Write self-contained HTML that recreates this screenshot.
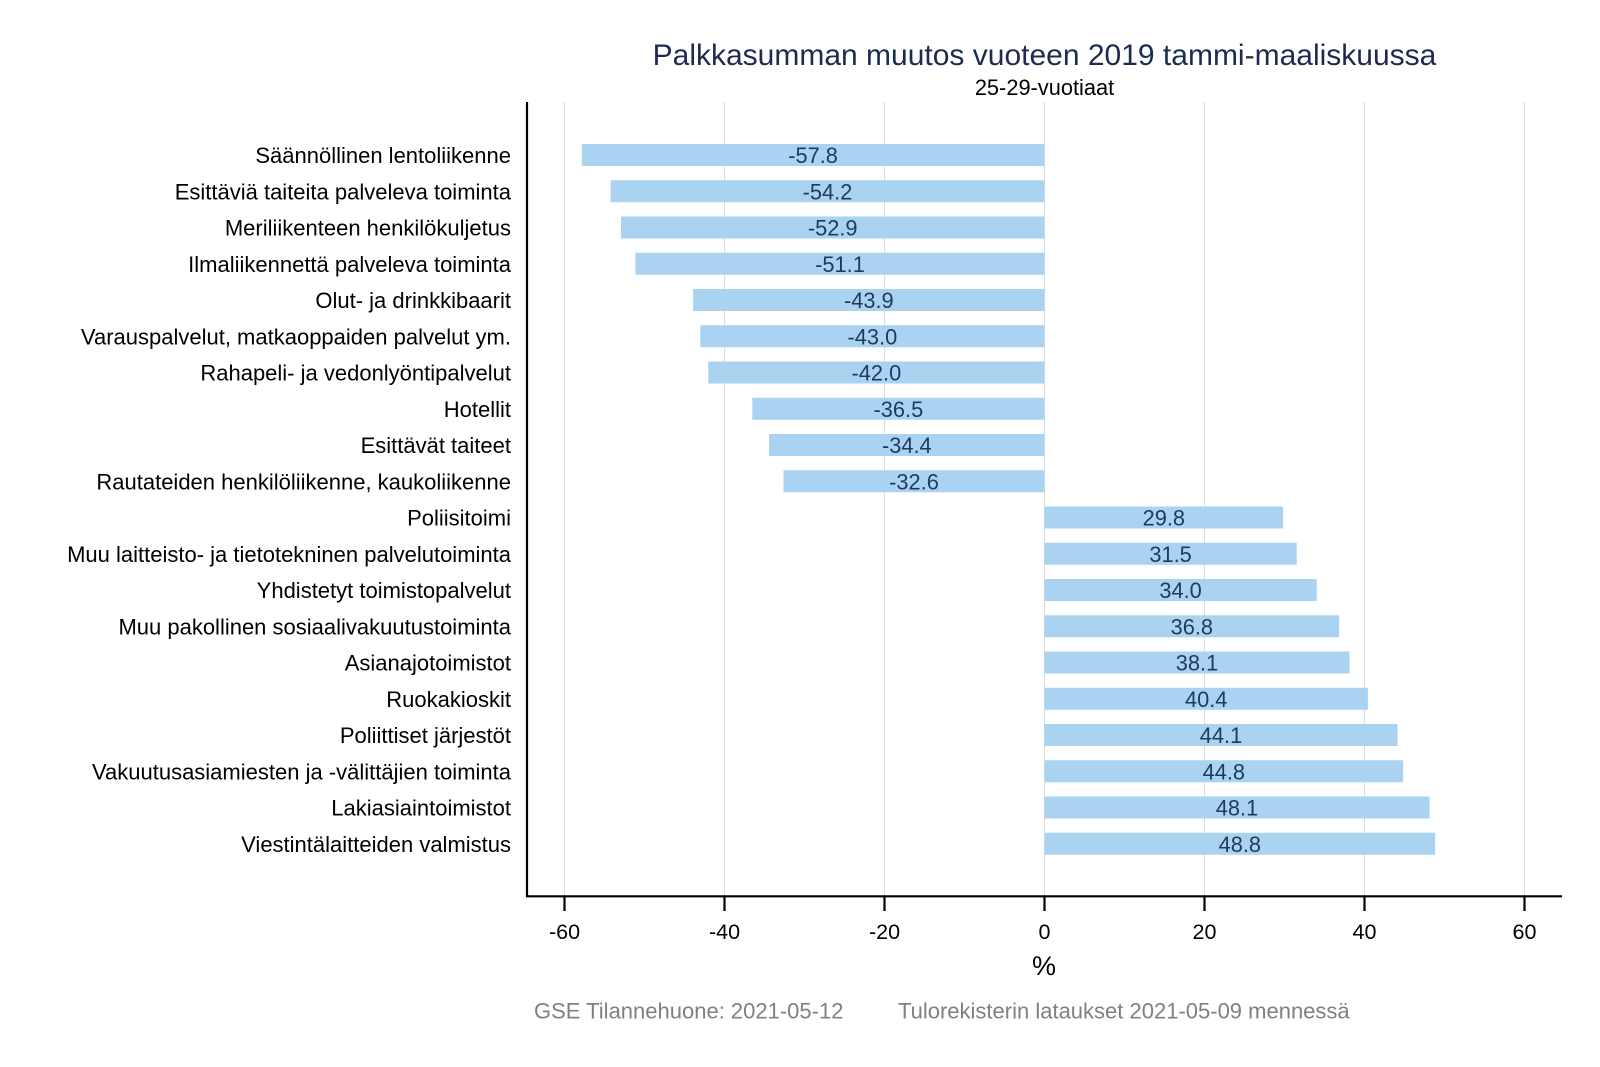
<!DOCTYPE html>
<html><head><meta charset="utf-8"><style>
html,body{margin:0;padding:0;background:#fff;}
svg{display:block;}
text{font-family:"Liberation Sans",Arial,sans-serif;}
</style></head><body>
<svg width="1600" height="1067" viewBox="0 0 1600 1067" xmlns="http://www.w3.org/2000/svg">
<rect width="1600" height="1067" fill="#fff"/>
<text x="1044.5" y="65" font-size="30" fill="#1c2b4f" text-anchor="middle">Palkkasumman muutos vuoteen 2019 tammi-maaliskuussa</text>
<text x="1044.5" y="95" font-size="21.8" fill="#000" text-anchor="middle">25-29-vuotiaat</text>
<g stroke="#dcdcdc" stroke-width="1">
<line x1="564.5" y1="102" x2="564.5" y2="896"/>
<line x1="724.5" y1="102" x2="724.5" y2="896"/>
<line x1="884.5" y1="102" x2="884.5" y2="896"/>
<line x1="1044.5" y1="102" x2="1044.5" y2="896"/>
<line x1="1204.5" y1="102" x2="1204.5" y2="896"/>
<line x1="1364.5" y1="102" x2="1364.5" y2="896"/>
<line x1="1524.5" y1="102" x2="1524.5" y2="896"/>
</g>
<g fill="#a9d3f1">
<rect x="581.8" y="144" width="462.7" height="22"/>
<rect x="610.6" y="180.25" width="433.9" height="22"/>
<rect x="621.0" y="216.5" width="423.5" height="22"/>
<rect x="635.4" y="252.75" width="409.1" height="22"/>
<rect x="693.1" y="289" width="351.4" height="22"/>
<rect x="700.3" y="325.25" width="344.2" height="22"/>
<rect x="708.3" y="361.5" width="336.2" height="22"/>
<rect x="752.3" y="397.75" width="292.2" height="22"/>
<rect x="769.1" y="434" width="275.4" height="22"/>
<rect x="783.5" y="470.25" width="261.0" height="22"/>
<rect x="1044.5" y="506.5" width="238.6" height="22"/>
<rect x="1044.5" y="542.75" width="252.2" height="22"/>
<rect x="1044.5" y="579" width="272.2" height="22"/>
<rect x="1044.5" y="615.25" width="294.6" height="22"/>
<rect x="1044.5" y="651.5" width="305.0" height="22"/>
<rect x="1044.5" y="687.75" width="323.4" height="22"/>
<rect x="1044.5" y="724" width="353.0" height="22"/>
<rect x="1044.5" y="760.25" width="358.6" height="22"/>
<rect x="1044.5" y="796.5" width="385.0" height="22"/>
<rect x="1044.5" y="832.75" width="390.6" height="22"/>
</g>
<g font-size="21.8" fill="#1e3a5f" text-anchor="middle">
<text x="813.1" y="163">-57.8</text>
<text x="827.5" y="199.25">-54.2</text>
<text x="832.7" y="235.5">-52.9</text>
<text x="840.0" y="271.75">-51.1</text>
<text x="868.8" y="308">-43.9</text>
<text x="872.4" y="344.25">-43.0</text>
<text x="876.4" y="380.5">-42.0</text>
<text x="898.4" y="416.75">-36.5</text>
<text x="906.8" y="453">-34.4</text>
<text x="914.0" y="489.25">-32.6</text>
<text x="1163.8" y="525.5">29.8</text>
<text x="1170.6" y="561.75">31.5</text>
<text x="1180.6" y="598">34.0</text>
<text x="1191.8" y="634.25">36.8</text>
<text x="1197.0" y="670.5">38.1</text>
<text x="1206.2" y="706.75">40.4</text>
<text x="1221.0" y="743">44.1</text>
<text x="1223.8" y="779.25">44.8</text>
<text x="1237.0" y="815.5">48.1</text>
<text x="1239.8" y="851.75">48.8</text>
</g>
<g font-size="22" fill="#000" text-anchor="end">
<text x="511" y="163">Säännöllinen lentoliikenne</text>
<text x="511" y="199.25">Esittäviä taiteita palveleva toiminta</text>
<text x="511" y="235.5">Meriliikenteen henkilökuljetus</text>
<text x="511" y="271.75">Ilmaliikennettä palveleva toiminta</text>
<text x="511" y="308">Olut- ja drinkkibaarit</text>
<text x="511" y="344.25">Varauspalvelut, matkaoppaiden palvelut ym.</text>
<text x="511" y="380.5">Rahapeli- ja vedonlyöntipalvelut</text>
<text x="511" y="416.75">Hotellit</text>
<text x="511" y="453">Esittävät taiteet</text>
<text x="511" y="489.25">Rautateiden henkilöliikenne, kaukoliikenne</text>
<text x="511" y="525.5">Poliisitoimi</text>
<text x="511" y="561.75">Muu laitteisto- ja tietotekninen palvelutoiminta</text>
<text x="511" y="598">Yhdistetyt toimistopalvelut</text>
<text x="511" y="634.25">Muu pakollinen sosiaalivakuutustoiminta</text>
<text x="511" y="670.5">Asianajotoimistot</text>
<text x="511" y="706.75">Ruokakioskit</text>
<text x="511" y="743">Poliittiset järjestöt</text>
<text x="511" y="779.25">Vakuutusasiamiesten ja -välittäjien toiminta</text>
<text x="511" y="815.5">Lakiasiaintoimistot</text>
<text x="511" y="851.75">Viestintälaitteiden valmistus</text>
</g>
<g stroke="#000" stroke-width="2.2" fill="none">
<line x1="527" y1="102" x2="527" y2="897"/>
<line x1="526" y1="896.3" x2="1562" y2="896.3"/>
<line x1="564.5" y1="896" x2="564.5" y2="911"/>
<line x1="724.5" y1="896" x2="724.5" y2="911"/>
<line x1="884.5" y1="896" x2="884.5" y2="911"/>
<line x1="1044.5" y1="896" x2="1044.5" y2="911"/>
<line x1="1204.5" y1="896" x2="1204.5" y2="911"/>
<line x1="1364.5" y1="896" x2="1364.5" y2="911"/>
<line x1="1524.5" y1="896" x2="1524.5" y2="911"/>
</g>
<g font-size="21.5" fill="#000" text-anchor="middle">
<text x="564.5" y="939">-60</text>
<text x="724.5" y="939">-40</text>
<text x="884.5" y="939">-20</text>
<text x="1044.5" y="939">0</text>
<text x="1204.5" y="939">20</text>
<text x="1364.5" y="939">40</text>
<text x="1524.5" y="939">60</text>
</g>
<text x="1044" y="975" font-size="27" fill="#000" text-anchor="middle">%</text>
<g font-size="22" fill="#808080">
<text x="534" y="1018.3">GSE Tilannehuone: 2021-05-12</text>
<text x="898" y="1018.3">Tulorekisterin lataukset 2021-05-09 mennessä</text>
</g>
</svg>
</body></html>
